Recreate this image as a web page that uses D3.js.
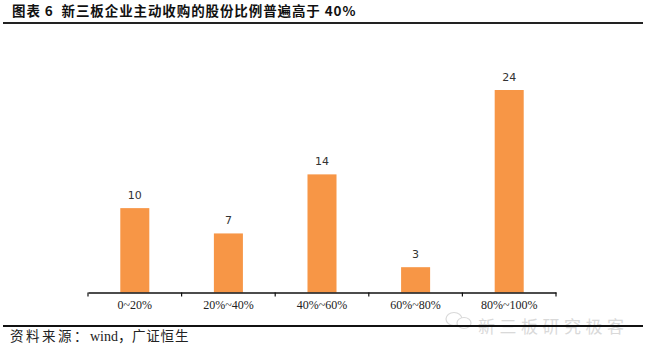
<!DOCTYPE html>
<html><head><meta charset="utf-8">
<script src="https://cdn.jsdelivr.net/npm/d3@7/dist/d3.min.js"></script>
<style>body{margin:0;background:#fff}svg{display:block}</style>
</head><body>
<svg id="c" width="653" height="357"></svg>
<script>
const categories = ["0~20%", "20%~40%", "40%~60%", "60%~80%", "80%~100%"];
const values = [10, 7, 14, 3, 24];
const titleText = "图表 6  新三板企业主动收购的股份比例普遍高于 40%";
const sourcePrefix = "资料来源：";
const sourceMid = "wind，";
const sourceSuffix = "广证恒生";
const watermarkText = "新三板研究极客";

const svg = d3.select("#c");
const x = d3.scaleBand().domain(categories).range([88, 556]).padding(0);
const y = d3.scaleLinear().domain([0, 24]).range([292.5, 90]);
const barW = x.bandwidth() * 0.31;

// title
svg.append("text").attr("x", 12).attr("y", 16)
  .attr("font-family", "'Noto Sans CJK SC', sans-serif").attr("font-weight", "bold")
  .attr("font-size", 13.5).attr("letter-spacing", 0.9).attr("fill", "#111")
  .attr("xml:space","preserve").text(titleText);
svg.append("line").attr("x1", 3).attr("x2", 643).attr("y1", 23).attr("y2", 23)
  .attr("stroke", "#222").attr("stroke-width", 2.2);

// watermark
const wm = svg.append("g").attr("opacity", 0.55);
wm.append("ellipse").attr("cx", 454).attr("cy", 319).attr("rx", 8).attr("ry", 6.5)
  .attr("fill", "none").attr("stroke", "#bbb").attr("stroke-width", 1.2);
wm.append("ellipse").attr("cx", 464).attr("cy", 323).attr("rx", 7).attr("ry", 5.5)
  .attr("fill", "#fff").attr("stroke", "#bbb").attr("stroke-width", 1.2);
wm.append("text").attr("x", 478).attr("y", 332.5)
  .attr("font-family", "'Noto Sans CJK SC', sans-serif").attr("font-size", 17)
  .attr("fill", "#bbb").attr("textLength", 146).text(watermarkText);

// bars
svg.selectAll("rect.bar").data(values).enter().append("rect")
  .attr("class", "bar")
  .attr("x", (d, i) => x(categories[i]) + (x.bandwidth() - barW) / 2)
  .attr("y", d => y(d))
  .attr("width", barW)
  .attr("height", d => y(0) - y(d))
  .attr("fill", "#F79646");

// value labels
svg.selectAll("text.val").data(values).enter().append("text")
  .attr("class", "val")
  .attr("x", (d, i) => x(categories[i]) + x.bandwidth() / 2)
  .attr("y", d => y(d) - 9)
  .attr("text-anchor", "middle")
  .attr("font-family", "'DejaVu Sans', sans-serif").attr("font-size", 11)
  .attr("fill", "#333").text(d => d);

// axis
const axis = d3.axisBottom(x).tickSize(0).tickPadding(8);
const gx = svg.append("g").attr("transform", "translate(0,292.5)").call(axis);
gx.select(".domain").attr("stroke", "#111").attr("stroke-width", 1.3);
gx.selectAll("text").attr("font-family", "'Liberation Serif', serif").attr("font-size", 12).attr("fill", "#222");
const edges = categories.map(c => x(c)).concat([x(categories[categories.length - 1]) + x.bandwidth()]);
gx.selectAll("line.edge").data(edges).enter().append("line").attr("class", "edge")
  .attr("x1", d => d).attr("x2", d => d).attr("y1", 0).attr("y2", 4)
  .attr("stroke", "#111").attr("stroke-width", 1.2);

// footer
svg.append("line").attr("x1", 3).attr("x2", 643).attr("y1", 326).attr("y2", 326)
  .attr("stroke", "#111").attr("stroke-width", 2.2);
const src = svg.append("text").attr("x", 10).attr("y", 341)
  .attr("font-family", "'Liberation Serif', 'Noto Sans CJK SC', serif").attr("font-size", 13.5)
  .attr("fill", "#222");
src.append("tspan").attr("letter-spacing", 2.5).text(sourcePrefix);
src.append("tspan").attr("font-size", 14).text(sourceMid);
src.append("tspan").attr("letter-spacing", 0.8).text(sourceSuffix);
</script>
</body></html>
